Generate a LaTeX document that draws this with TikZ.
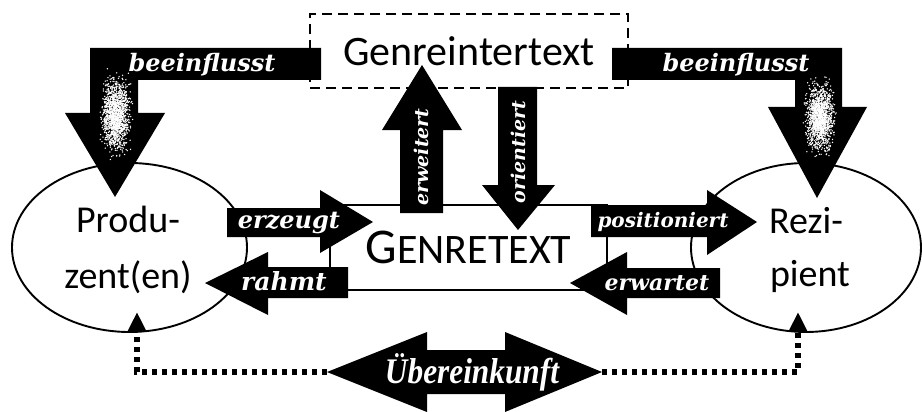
\documentclass[tikz,border=0pt]{standalone}
\usepackage{fontspec}
\setmainfont{Carlito}
\newfontfamily\lblfont{DejaVu Serif}
\newfontfamily\ubfont[FakeStretch=0.87]{Liberation Serif}
\usetikzlibrary{shapes.geometric,arrows.meta}

\tikzset{
  blockarrow/.style={fill=black},
  lbl/.style={text=white, inner sep=0pt, font=\lblfont\bfseries\itshape\fontsize{#1}{#1}\selectfont},
  lbl/.default=22,
  ring/.style={ellipse, draw, line width=1.9pt, inner sep=0pt},
  bigtext/.style={font=\fontsize{38}{40}\selectfont, inner sep=0pt},
  dotline/.style={line width=6pt, dash pattern=on 5pt off 5pt, -{Triangle[width=17pt,length=19pt]}},
}

\begin{document}
\begin{tikzpicture}[x=1pt,y=-1pt]
\useasboundingbox (0,0) rectangle (922,412);
% ellipses, text box and intertext box
\node[ring, minimum width=235pt, minimum height=169pt] (prod) at (129.5,247.5) {};
\node[ring, minimum width=230pt, minimum height=169pt] (rez) at (806,247.5) {};
\node[draw, line width=1.6pt, minimum width=277pt, minimum height=85pt, inner sep=0pt] (gtext) at (468.5,247.5)
  {\fontsize{50}{50}\selectfont G\fontsize{42}{42}\selectfont ENRETEXT};
\node[draw, line width=1.6pt, dash pattern=on 10pt off 6pt, minimum width=318pt, minimum height=74pt, inner sep=0pt,
  font=\fontsize{42}{44}\selectfont] (gitext) at (469,51) {Genreintertext};
\node[bigtext, anchor=base] (prod1) at (128,232) {Produ-};
\node[bigtext, anchor=base] (prod2) at (128,288) {zent(en)};
\node[bigtext, anchor=base] (rez1) at (806,233) {Rezi-};
\node[bigtext, anchor=base] (rez2) at (810,286) {pient};
% beeinflusst, left and right
\fill[blockarrow] (321,48) -- (90,48) -- (90,113) -- (65,113) -- (115,197) -- (165,113) -- (138,113) -- (138,80) -- (321,80) -- cycle;
\fill[blockarrow] (612,48) -- (842,48) -- (842,107) -- (867,107) -- (817,198) -- (768,107) -- (795,107) -- (795,80) -- (612,80) -- cycle;
\pgfmathsetseed{42}
\foreach \k in {1,...,1500}
  \fill[white] ({116+6*(rand+rand+rand)},{115+16*(rand+rand+rand)}) circle (0.75);
\foreach \k in {1,...,1500}
  \fill[white] ({820+6*(rand+rand+rand)},{118+15*(rand+rand+rand)}) circle (0.75);
\node[lbl=24, anchor=base] (beeinfl) at (202,72) {beeinflusst};
\node[lbl=24, anchor=base] (beeinfr) at (736,72) {beeinflusst};
% erweitert / orientiert
\fill[blockarrow] (400,213) -- (400,130) -- (382,130) -- (422,65) -- (462,130) -- (443,130) -- (443,213) -- cycle;
\fill[blockarrow] (498,87) -- (537,87) -- (537,185) -- (555,185) -- (518,230) -- (482,185) -- (498,185) -- cycle;
\node[lbl=19, rotate=90] (erweitert) at (421,157) {erweitert};
\node[lbl=19, rotate=90] (orient) at (518,152) {orientiert};
% erzeugt / rahmt
\fill[blockarrow] (227,208) -- (320,208) -- (320,190) -- (373,222) -- (320,253) -- (320,237) -- (227,237) -- cycle;
\fill[blockarrow] (348,267) -- (268,267) -- (268,252) -- (205,283) -- (268,315) -- (268,298) -- (348,298) -- cycle;
\node[lbl=24, anchor=base] (erzeugt) at (289,228) {erzeugt};
\node[lbl=25, anchor=base] (rahmt) at (284,290) {rahmt};
% positioniert / erwartet
\fill[blockarrow] (591,205) -- (707,205) -- (707,190) -- (757,222) -- (707,255) -- (707,237) -- (591,237) -- cycle;
\fill[blockarrow] (720,268) -- (627,268) -- (627,252) -- (570,283) -- (627,315) -- (627,298) -- (720,298) -- cycle;
\node[lbl=20, anchor=base] (posit) at (663,227) {positioniert};
\node[lbl=22, anchor=base] (erwartet) at (657,290) {erwartet};
% Uebereinkunft
\fill[blockarrow] (327,372) -- (427,332) -- (427,350) -- (505,350) -- (505,332) -- (602,372) -- (505,412) -- (505,394) -- (427,394) -- (427,412) -- cycle;
\node[text=white, inner sep=0pt, anchor=base, font=\ubfont\bfseries\itshape\fontsize{36}{36}\selectfont] (ueber) at (472,383) {Übereinkunft};
\coordinate (ueblft) at (327,372);
\coordinate (uebrgt) at (602,372);
\coordinate (prodtip) at (137,312);
\coordinate (reztip) at (798,312);
\draw[dotline] (ueblft) -| (prodtip);
\draw[dotline] (uebrgt) -| (reztip);
\end{tikzpicture}
\end{document}
